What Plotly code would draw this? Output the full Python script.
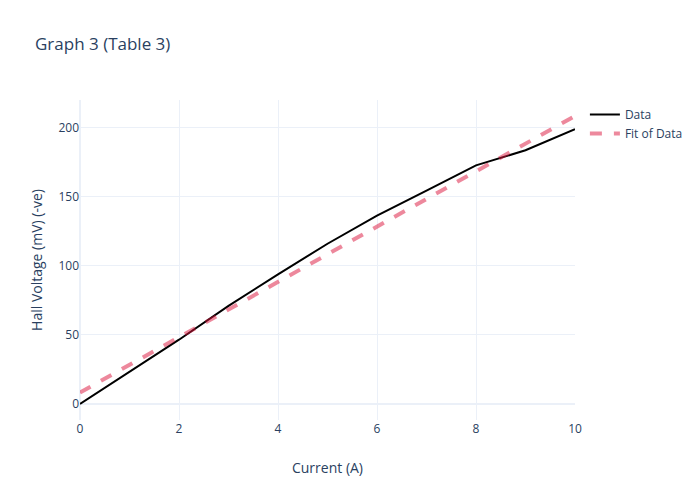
import plotly.graph_objects as go

current = [0, 1, 2, 3, 4, 5, 6, 7, 8, 9, 10]
hall_voltage = [0, 23.5, 46.5, 71, 93.8, 115.9, 136.2, 154.4, 172.6, 183.5, 198.8]
fit_voltage = [8.3, 28.3, 48.3, 68.3, 88.3, 108.3, 128.3, 148.3, 168.3, 188.3, 208.3]

fig = go.Figure()
fig.add_trace(go.Scatter(x=current, y=hall_voltage, mode="lines", name="Data",
                         line=dict(color="black", width=2)))
fig.add_trace(go.Scatter(x=current, y=fit_voltage, mode="lines", name="Fit of Data",
                         line=dict(color="crimson", width=4, dash="dash"), opacity=0.5))
fig.update_layout(
    template="plotly_white",
    title="Graph 3 (Table 3)",
    xaxis=dict(title=dict(text="Current (A)", standoff=27)),
    yaxis=dict(title=dict(text="Hall Voltage (mV) (-ve)", standoff=12)),
    width=700, height=500,
)
fig.write_html("out.html", config={"displayModeBar": False},
               post_script="document.body.style.margin='0';")
